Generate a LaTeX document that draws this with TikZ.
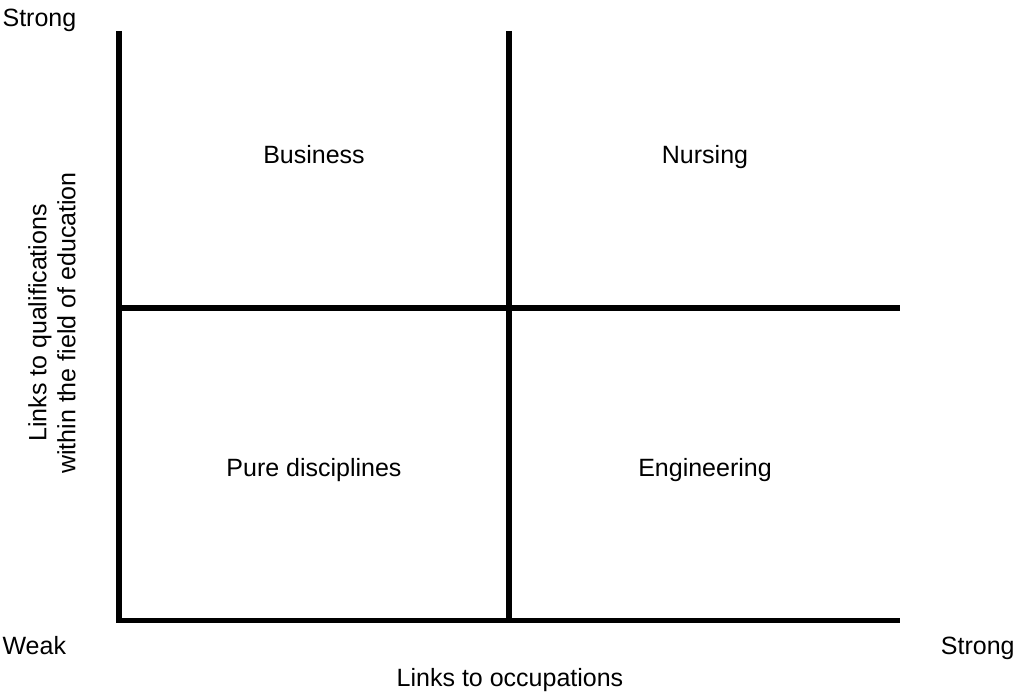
\documentclass[tikz,border=0pt]{standalone}
\usepackage{fontspec}
\setmainfont{Liberation Sans}
\begin{document}
\begin{tikzpicture}[line join=miter,every node/.style={inner sep=0pt,outer sep=0pt,font=\fontsize{12.5bp}{14.5bp}\selectfont}]
%%
\useasboundingbox (0bp,0bp) rectangle (508.5bp,346.5bp);
\coordinate (top_left) at (59.5bp,331.0bp);
  \coordinate (bottom_left) at (59.5bp,36.25bp);
  \coordinate (bottom_right) at (450.0bp,36.25bp);
  \coordinate (top_mid) at (254.5bp,331.0bp);
  \coordinate (bottom_mid) at (254.5bp,36.25bp);
  \coordinate (left_mid) at (59.5bp,192.65bp);
  \coordinate (right_mid) at (450.0bp,192.65bp);
  \node (strong_y) at (1.3bp,333.3bp) [anchor=base west] {Strong};
  \node (weak) at (1.3bp,19.5bp) [anchor=base west] {Weak};
  \node (strong_x) at (507.3bp,19.5bp) [anchor=base east] {Strong};
  \node (label_x) at (255.0bp,3.2bp) [anchor=base] {Links to occupations};
  \node (label_y) at (26.0bp,185.0bp) [rotate=90,align=center] {Links to qualifications\\within the field of education};
  \node (business) at (157.0bp,264.5bp) [anchor=base] {Business};
  \node (nursing) at (352.5bp,264.5bp) [anchor=base] {Nursing};
  \node (pure) at (157.0bp,108.0bp) [anchor=base] {Pure disciplines};
  \node (engineering) at (352.5bp,108.0bp) [anchor=base] {Engineering};
  \draw [black,line width=2.9bp] (top_left) -- (bottom_left) -- (bottom_right);
  \draw [black,line width=2.9bp] (top_mid) -- (bottom_mid);
  \draw [black,line width=2.9bp] (left_mid) -- (right_mid);
%
\end{tikzpicture}
\end{document}
